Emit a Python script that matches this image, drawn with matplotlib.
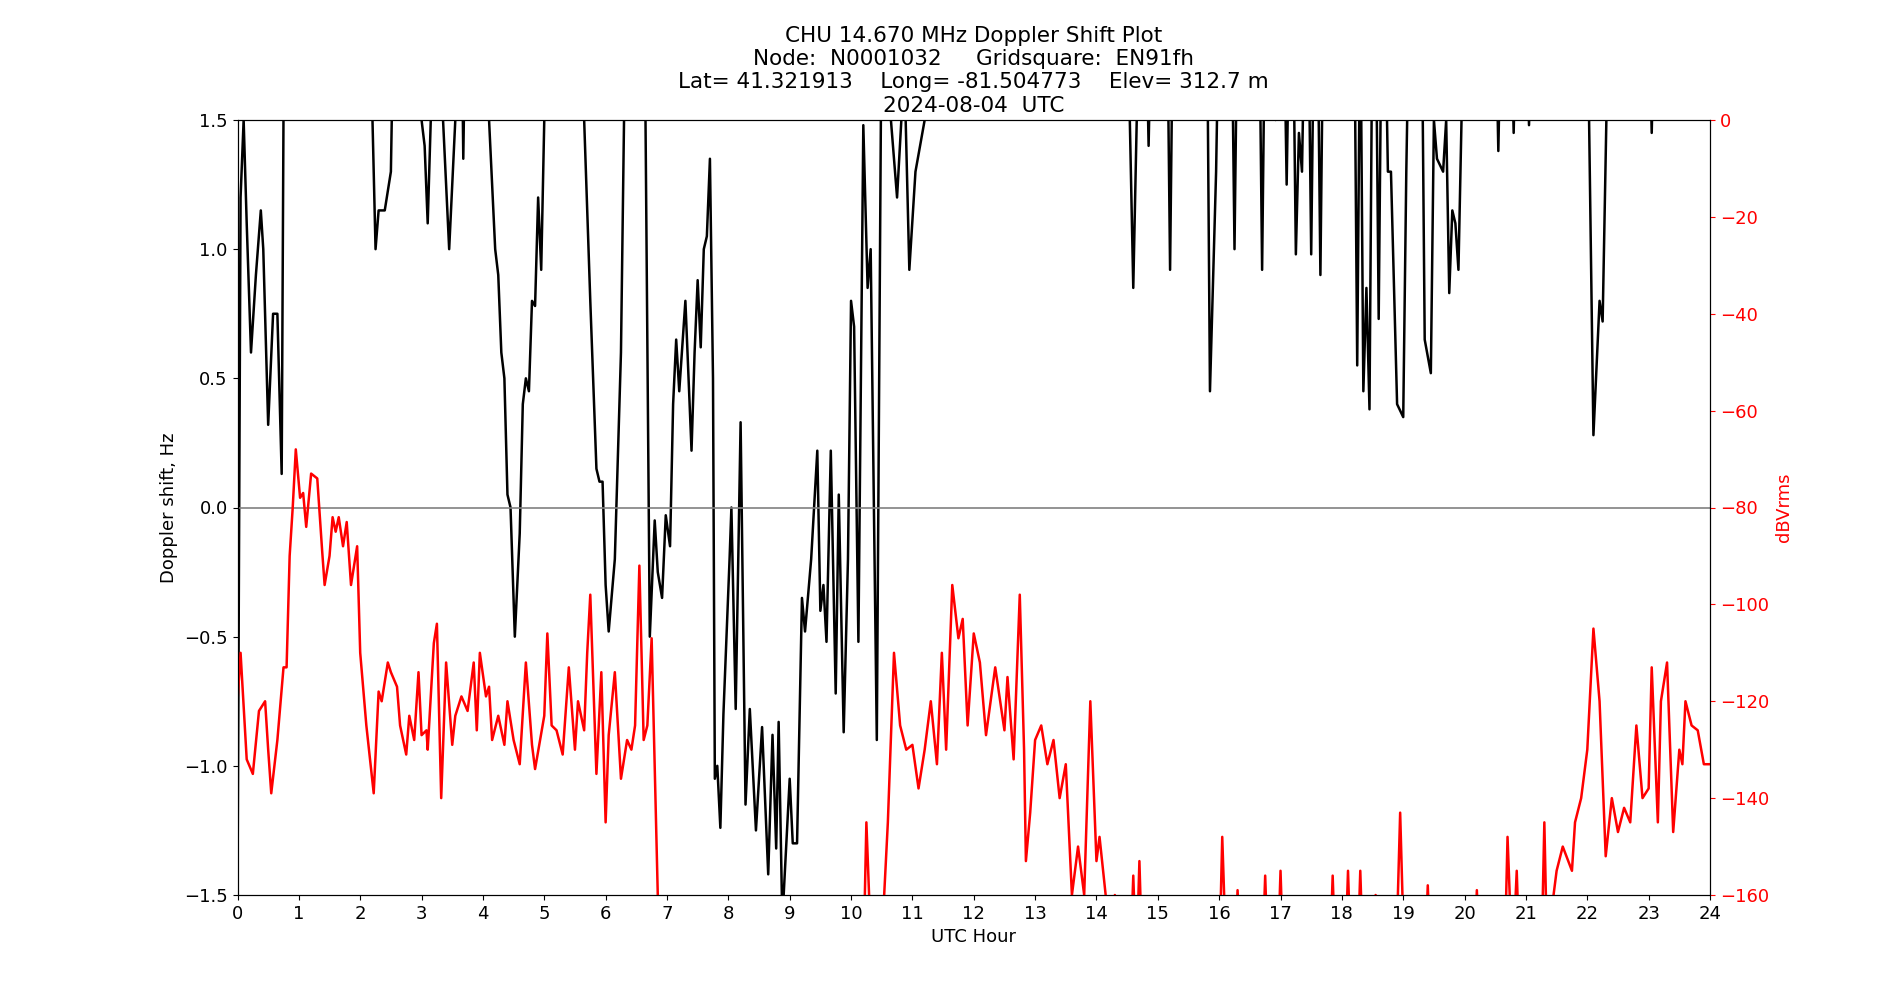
import matplotlib
matplotlib.use("Agg")
import matplotlib.pyplot as plt

# Doppler shift (black); values > 1.5 are off-axis
dop_t = [0.0, 0.05, 0.1, 0.15, 0.22, 0.3, 0.38, 0.42, 0.5, 0.58, 0.65, 0.72, 0.76,
         2.15, 2.2, 2.25, 2.3, 2.4, 2.5, 2.55, 2.95, 3.0, 3.05, 3.1, 3.15, 3.2, 3.3, 3.35,
         3.45, 3.55, 3.6, 3.65, 3.68, 3.72, 4.05, 4.1, 4.2, 4.25, 4.3, 4.35, 4.4, 4.45, 4.52,
         4.6, 4.65, 4.7, 4.75, 4.8, 4.85, 4.9, 4.95, 5.0, 5.05, 5.6, 5.65, 5.75, 5.85, 5.9,
         5.95, 6.0, 6.05, 6.15, 6.25, 6.3, 6.35, 6.6, 6.65, 6.72, 6.8, 6.85, 6.92, 6.98,
         7.05, 7.1, 7.15, 7.2, 7.3, 7.4, 7.45, 7.5, 7.55, 7.6, 7.65, 7.7, 7.75, 7.78, 7.82,
         7.87, 7.92, 7.97, 8.02, 8.05, 8.12, 8.2, 8.28, 8.35, 8.45, 8.55, 8.65, 8.72, 8.78,
         8.82, 8.88, 9.0, 9.05, 9.12, 9.2, 9.25, 9.35, 9.45, 9.5, 9.55, 9.6, 9.67, 9.75,
         9.8, 9.88, 9.95, 10.0, 10.05, 10.12, 10.2, 10.27, 10.32, 10.42, 10.5, 10.6, 10.65,
         10.75, 10.82, 10.88, 10.95, 11.05, 11.2, 11.25, 14.5, 14.6, 14.7, 14.8, 14.85, 14.9,
         15.15, 15.2, 15.25, 15.8, 15.85, 15.95, 16.0, 16.2, 16.25, 16.3, 16.65, 16.7, 16.75,
         16.9, 16.92, 16.95, 17.05, 17.1, 17.15, 17.2, 17.25, 17.3, 17.35, 17.4, 17.45, 17.5,
         17.55, 17.6, 17.65, 17.7, 18.2, 18.25, 18.3, 18.35, 18.4, 18.45, 18.5, 18.55, 18.6,
         18.65, 18.7, 18.75, 18.8, 18.9, 19.0, 19.05, 19.1, 19.3, 19.35, 19.45, 19.5, 19.55,
         19.65, 19.7, 19.75, 19.8, 19.85, 19.9, 19.95, 20.0, 20.5, 20.55, 20.6, 20.75, 20.8,
         20.85, 21.0, 21.05, 21.1, 22.0, 22.1, 22.2, 22.25, 22.35, 23.0, 23.05, 23.1, 24.0]
dop_hz = [-1.5, 1.2, 1.5, 1.1, 0.6, 0.9, 1.15, 1.0, 0.32, 0.75, 0.75, 0.13, 2,
          2, 1.5, 1.0, 1.15, 1.15, 1.3, 2, 2, 1.5, 1.4, 1.1, 1.5, 2, 2, 1.5,
          1.0, 1.5, 2, 2, 1.35, 2, 2, 1.5, 1.0, 0.9, 0.6, 0.5, 0.05, 0.0, -0.5,
          -0.1, 0.4, 0.5, 0.45, 0.8, 0.78, 1.2, 0.92, 1.5, 2, 2, 1.5, 0.8, 0.15, 0.1,
          0.1, -0.3, -0.48, -0.2, 0.6, 1.5, 2, 2, 1.5, -0.5, -0.05, -0.25, -0.35, -0.03,
          -0.15, 0.4, 0.65, 0.45, 0.8, 0.22, 0.6, 0.88, 0.62, 1.0, 1.05, 1.35, 0.5, -1.05, -1.0,
          -1.24, -0.8, -0.5, -0.2, 0.0, -0.78, 0.33, -1.15, -0.78, -1.25, -0.85, -1.42, -0.88, -1.32,
          -0.83, -1.6, -1.05, -1.3, -1.3, -0.35, -0.48, -0.2, 0.22, -0.4, -0.3, -0.52, 0.22, -0.72,
          0.05, -0.87, -0.2, 0.8, 0.7, -0.52, 1.48, 0.85, 1.0, -0.9, 2, 2, 1.5,
          1.2, 1.5, 1.6, 0.92, 1.3, 1.5, 2, 2, 0.85, 2, 2, 1.4, 2,
          2, 0.92, 2, 2, 0.45, 1.3, 2, 2, 1.0, 2, 2, 0.92, 2,
          2, 1.5, 2, 2, 1.25, 2, 2, 0.98, 1.45, 1.3, 2, 2, 0.98,
          2, 2, 0.9, 2, 2, 0.55, 2, 0.45, 0.85, 0.38, 2, 2, 0.73,
          2, 2, 1.3, 1.3, 0.4, 0.35, 1.3, 2, 2, 0.65, 0.52, 1.5, 1.35,
          1.3, 1.5, 0.83, 1.15, 1.1, 0.92, 1.5, 2, 2, 1.38, 2, 2, 1.45,
          2, 2, 1.48, 2, 2, 0.28, 0.8, 0.72, 2, 2, 1.45, 2, 2]

# Signal level (red), dBVrms
sig_t = [0, 0.05, 0.15, 0.25, 0.35, 0.45, 0.5, 0.55, 0.65, 0.75, 0.8, 0.85, 0.9, 0.95,
         1.02, 1.07, 1.12, 1.2, 1.3, 1.38, 1.42, 1.5, 1.55, 1.6, 1.65, 1.72, 1.78, 1.85, 1.95,
         2.0, 2.1, 2.22, 2.3, 2.35, 2.45, 2.5, 2.6, 2.65, 2.75, 2.8, 2.88, 2.95, 3.0, 3.08,
         3.1, 3.2, 3.25, 3.32, 3.4, 3.5, 3.55, 3.65, 3.75, 3.85, 3.9, 3.95, 4.05, 4.1, 4.15,
         4.25, 4.35, 4.4, 4.5, 4.6, 4.7, 4.8, 4.85, 5.0, 5.05, 5.12, 5.2, 5.3, 5.4, 5.5,
         5.55, 5.65, 5.7, 5.75, 5.85, 5.93, 6.0, 6.05, 6.15, 6.25, 6.35, 6.42, 6.48, 6.55,
         6.62, 6.68, 6.75, 6.85, 6.9, 10.15, 10.2, 10.25, 10.3, 10.35, 10.5, 10.6, 10.7, 10.8,
         10.9, 11.0, 11.1, 11.2, 11.3, 11.4, 11.48, 11.55, 11.65, 11.75, 11.82, 11.9, 12.0,
         12.1, 12.2, 12.35, 12.5, 12.55, 12.65, 12.75, 12.82, 12.85, 12.92, 13.0, 13.1, 13.2,
         13.3, 13.4, 13.5, 13.6, 13.7, 13.8, 13.9, 14.0, 14.05, 14.15, 14.2,
         14.25, 14.3, 14.35, 14.55, 14.6, 14.65, 14.7, 14.75, 14.8,
         16.0, 16.05, 16.12, 16.25, 16.3, 16.35, 16.7, 16.75, 16.8, 16.95, 17.0, 17.05,
         17.8, 17.85, 17.9, 18.05, 18.1, 18.15, 18.25, 18.3, 18.35, 18.5, 18.55, 18.6,
         18.88, 18.95, 19.02, 19.35, 19.4, 19.45, 20.15, 20.2, 20.25, 20.65, 20.7, 20.78,
         20.85, 20.9, 21.25, 21.3, 21.35, 21.45, 21.5, 21.6, 21.75, 21.8, 21.9, 22.0, 22.1,
         22.2, 22.3, 22.4, 22.5, 22.6, 22.7, 22.8, 22.9, 23.0, 23.05, 23.15, 23.2, 23.3, 23.4,
         23.5, 23.55, 23.6, 23.7, 23.8, 23.9, 24.0]
sig_db = [-120, -110, -132, -135, -122, -120, -130, -139, -128, -113, -113, -90, -80, -68,
          -78, -77, -84, -73, -74, -89, -96, -90, -82, -85, -82, -88, -83, -96, -88,
          -110, -125, -139, -118, -120, -112, -114, -117, -125, -131, -123, -128, -114, -127, -126,
          -130, -108, -104, -140, -112, -129, -123, -119, -122, -112, -126, -110, -119, -117, -128,
          -123, -129, -120, -128, -133, -112, -129, -134, -123, -106, -125, -126, -131, -113, -130,
          -120, -126, -110, -98, -135, -114, -145, -127, -114, -136, -128, -130, -125, -92,
          -128, -125, -107, -160, -200, -200, -175, -145, -162, -175, -170, -145, -110, -125,
          -130, -129, -138, -130, -120, -133, -110, -130, -96, -107, -103, -125, -106,
          -112, -127, -113, -126, -115, -132, -98, -130, -153, -143, -128, -125, -133,
          -128, -140, -133, -160, -150, -160, -120, -153, -148, -160, -170,
          -175, -160, -175, -175, -156, -175, -153, -175, -180,
          -175, -148, -175, -175, -159, -175, -175, -156, -175, -175, -155, -175,
          -175, -156, -175, -175, -155, -175, -175, -155, -175, -175, -160, -175,
          -175, -143, -175, -175, -158, -175, -175, -159, -175, -175, -148, -175,
          -155, -175, -175, -145, -175, -160, -155, -150, -155, -145, -140, -130, -105,
          -120, -152, -140, -147, -142, -145, -125, -140, -138, -113, -145, -120, -112, -147,
          -130, -133, -120, -125, -126, -133, -133]

fig, ax = plt.subplots(figsize=(19, 10), dpi=100)
fig.subplots_adjust(left=0.125, right=0.9, top=0.88, bottom=0.105)

ax.plot(dop_t, dop_hz, color="black", lw=1.8)
ax.axhline(0, color="grey", lw=1.2)
ax.set_xlim(0, 24)
ax.set_ylim(-1.5, 1.5)
ax.set_xticks(range(25))
ax.set_xlabel("UTC Hour", fontsize=13)
ax.set_ylabel("Doppler shift, Hz", fontsize=13)
ax.tick_params(labelsize=13)
ax.set_title("CHU 14.670 MHz Doppler Shift Plot\n"
             "Node:  N0001032     Gridsquare:  EN91fh\n"
             "Lat= 41.321913    Long= -81.504773    Elev= 312.7 m\n"
             "2024-08-04  UTC", fontsize=15.5)

ax2 = ax.twinx()
ax2.plot(sig_t, sig_db, color="red", lw=1.8)
ax2.set_ylim(-160, 0)
ax2.set_ylabel("dBVrms", color="red", fontsize=13)
ax2.tick_params(axis="y", colors="red", labelsize=13)

fig.savefig("out.png")
